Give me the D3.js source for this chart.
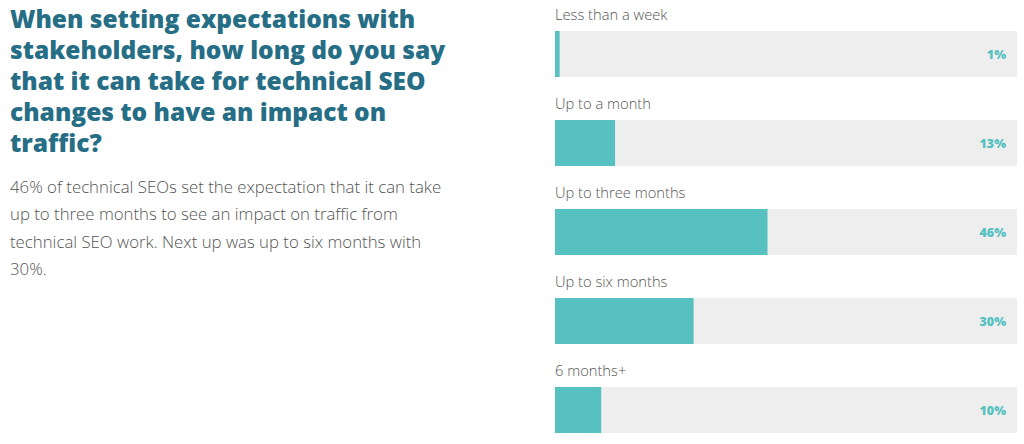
<!DOCTYPE html>
<html><head><meta charset="utf-8">
<script src="https://cdn.jsdelivr.net/npm/d3@7"></script>
<style>
html,body{margin:0;padding:0;background:#fff;}
svg{display:block;}
</style></head>
<body><svg id="c" width="1024" height="444"></svg>
<script>
const categories = ["Less than a week","Up to a month","Up to three months","Up to six months","6 months+"];
const values = [1,13,46,30,10];
const valueLabels = ["1%","13%","46%","30%","10%"];
const titleLines = ["When setting expectations with","stakeholders, how long do you say","that it can take for technical SEO","changes to have an impact on","traffic?"];
const bodyLines = ["46% of technical SEOs set the expectation that it can take","up to three months to see an impact on traffic from","technical SEO work. Next up was up to six months with","30%."];

const svg = d3.select("#c");
const barColor = "#57c1c1", bgColor = "#eeeeee";

// Title
svg.append("g").selectAll("text").data(titleLines).join("text")
  .attr("x", 10).attr("y", (d,i)=>27.5 + i*31)
  .attr("font-family","'Open Sans', sans-serif").attr("font-weight",800)
  .attr("font-size",24.5).attr("fill","#266e85")
  .text(d=>d);

// Body
svg.append("g").selectAll("text").data(bodyLines).join("text")
  .attr("x", 10).attr("y", (d,i)=>192.5 + i*27.5)
  .attr("font-family","'Open Sans', sans-serif").attr("font-weight",300)
  .attr("font-size",16.8).attr("fill","#555555")
  .text(d=>d);

// Bars
const x = d3.scaleLinear().domain([0,100]).range([555,1017]);
const y = d3.scaleBand().domain(categories).range([0,445]).paddingInner(0).paddingOuter(0);
const barTop = c => y(c) + 31;
const barH = 46;

const g = svg.append("g");
g.selectAll("rect.bg").data(categories).join("rect").attr("class","bg")
  .attr("x", x(0)).attr("y", d=>barTop(d)).attr("width", x(100)-x(0)).attr("height", barH)
  .attr("fill", bgColor);
g.selectAll("rect.bar").data(categories).join("rect").attr("class","bar")
  .attr("x", x(0)).attr("y", d=>barTop(d)).attr("width", (d,i)=>x(values[i])-x(0)).attr("height", barH)
  .attr("fill", barColor);
g.selectAll("text.cat").data(categories).join("text").attr("class","cat")
  .attr("x", x(0)).attr("y", d=>barTop(d)-11)
  .attr("font-family","'Open Sans', sans-serif").attr("font-weight",300).attr("font-size",14.7).attr("fill","#555555")
  .text(d=>d);
g.selectAll("text.val").data(categories).join("text").attr("class","val")
  .attr("x", 1006).attr("y", d=>barTop(d)+barH/2+4.5)
  .attr("text-anchor","end")
  .attr("font-family","'Open Sans', sans-serif").attr("font-weight",800).attr("font-size",12.5).attr("fill",barColor)
  .text((d,i)=>valueLabels[i]);
</script></body></html>
